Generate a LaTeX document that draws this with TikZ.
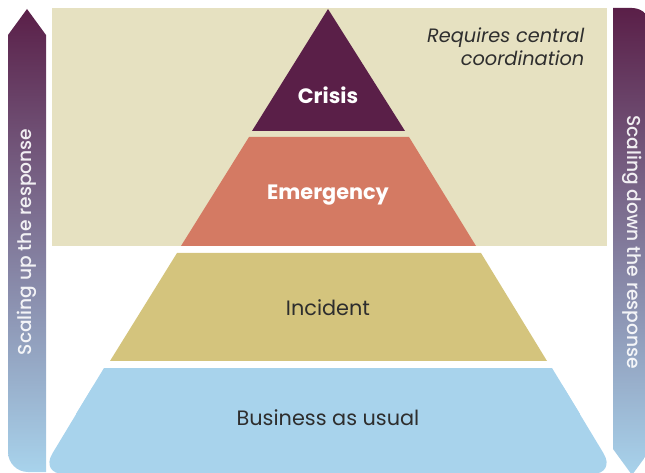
\documentclass[tikz,border=0pt]{standalone}
\usepackage{fontspec}
\setmainfont{Poppins}
\usepackage{tikz}
\definecolor{crisiscol}{HTML}{5A1F48}
\definecolor{emergcol}{HTML}{D47A63}
\definecolor{incidcol}{HTML}{D4C47D}
\definecolor{busicol}{HTML}{A8D3EC}
\definecolor{boxcol}{HTML}{E6E1C1}
\definecolor{txtcol}{HTML}{2E2E2E}

\begin{document}
\begin{tikzpicture}[x=0.75pt,y=0.75pt,yscale=-1,xscale=1,
  lvltxt/.style={font=\fontsize{15.6}{18}\selectfont, text=txtcol},
  toptxt/.style={font=\fontsize{15.6}{18}\selectfont\bfseries, text=white},
  notetxt/.style={font=\fontsize{14.5}{17}\selectfont\itshape, text=txtcol, align=right, anchor=north east},
  sidetxt/.style={font=\fontsize{14}{16}\selectfont\sffamily\fontspec{Poppins Medium}, text=white, text opacity=0.9},
  sidearrow/.style={top color=crisiscol, bottom color=busicol}]
\useasboundingbox (0,0) rectangle (645,473);
            % shaded box for central coordination
            \fill [boxcol] (52,8) rectangle (607,246) ;
            % side arrows
            \shade [sidearrow] (27,9) -- (46,35) -- (46,472) -- (28,472) arc [start angle=90, end angle=180, radius=20] -- (8,35) -- cycle ;
            \shade [sidearrow] (613,8) -- (632,8) arc [start angle=270, end angle=360, radius=19] -- (651,449) -- (632,475) -- (613,449) -- cycle ;
            % pyramid levels
            \fill [crisiscol] (328,9) -- (405,131) -- (252,131) -- cycle ;
            \fill [emergcol] (249,137) -- (409,137) -- (476,246) -- (181,246) -- cycle ;
            \fill [incidcol] (177,253) -- (481,253) -- (547,361) -- (110,361) -- cycle ;
            \fill [busicol, rounded corners=18] (104,368) -- (552,368) -- (616,474) -- (40,474) -- cycle ;
            \fill [busicol] (104,368) -- (552,368) -- (580,414) -- (76,414) -- cycle ;
            % labels
            \node [toptxt] (crisis) at (328,95) {Crisis};
            \node [toptxt] (emerg) at (328,195) {Emergency};
            \node [lvltxt] (incid) at (328,308) {Incident};
            \node [lvltxt] (busi) at (328,418) {Business as usual};
            \node [notetxt] (note) at (589,23) {Requires central\\coordination};
            \node [sidetxt, rotate=90] (up) at (27,242) {Scaling up the response};
            \node [sidetxt, rotate=-90] (down) at (632,242) {Scaling down the response};
\end{tikzpicture}
\end{document}
